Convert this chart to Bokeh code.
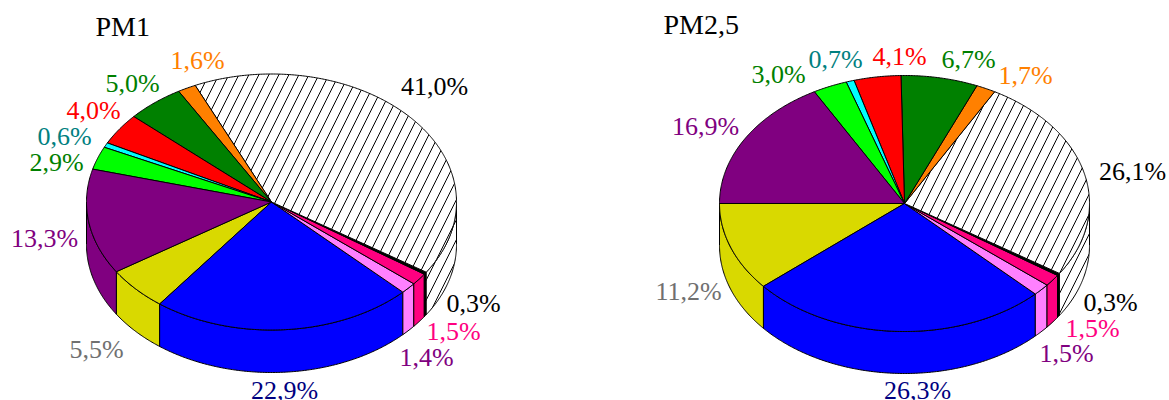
import numpy as np
from bokeh.core.properties import value
from bokeh.embed import file_html
from bokeh.models import Range1d
from bokeh.plotting import figure
from bokeh.resources import INLINE

# Slices in drawing order (counter-clockwise from each chart's start angle)
pm1_values = [5.5, 22.9, 1.4, 1.5, 0.3, 41.0, 1.6, 5.0, 4.0, 0.6, 2.9, 13.3]
pm25_values = [11.2, 26.3, 1.5, 1.5, 0.3, 26.1, 1.7, 6.7, 4.1, 0.7, 3.0, 16.9]
pm1_labels = ["5,5%", "22,9%", "1,4%", "1,5%", "0,3%", "41,0%", "1,6%", "5,0%", "4,0%", "0,6%", "2,9%", "13,3%"]
pm25_labels = ["11,2%", "26,3%", "1,5%", "1,5%", "0,3%", "26,1%", "1,7%", "6,7%", "4,1%", "0,7%", "3,0%", "16,9%"]
titles = ["PM1", "PM2,5"]

slice_colors = ["#d9d900", "#0000ff", "#ff80ff", "#ff0080", "#000000", "#ffffff",
                "#ff8000", "#008000", "#ff0000", "#00ffff", "#00ff00", "#800080"]
label_colors = ["#707070", "#000080", "#800080", "#ff0080", "#000000", "#000000",
                "#ff8000", "#008000", "#ff0000", "#008080", "#008000", "#800080"]
HATCHED = 5

# Layout (page pixels)
pm1_geom = dict(cx=271, cy=201.5, rx=185, ry=128, depth=42.5, start=213)
pm25_geom = dict(cx=904, cy=203, rx=185, ry=128, depth=42, start=180)
pm1_label_x = [96, 284, 426, 453, 473, 434, 197, 132, 93, 64, 56, 44]
pm1_label_y = [349, 390, 357, 331, 303, 86, 60, 83, 110, 136, 162, 238]
pm25_label_x = [688, 917, 1066, 1092, 1110, 1132, 1025, 968, 899, 835, 778, 705]
pm25_label_y = [291, 390, 353, 328, 302, 171, 75, 59, 56, 59, 74, 126]
title_x = [95, 663]
title_y = [26, 24]

FONT = "Liberation Serif"
LABEL_SIZE = "26px"
TITLE_SIZE = "28px"

p = figure(width=1169, height=400, output_backend="svg", toolbar_location=None,
           x_range=Range1d(0, 1169), y_range=Range1d(400, 0),
           min_border=0, outline_line_color=None)
p.xaxis.visible = False
p.yaxis.visible = False
p.grid.visible = False


def arc(g, a0, a1, dy=0.0):
    n = max(2, int(abs(a1 - a0)) * 2 + 2)
    t = np.radians(np.linspace(a0, a1, n))
    return g["cx"] + g["rx"] * np.cos(t), g["cy"] - g["ry"] * np.sin(t) + dy


def style(i):
    kw = dict(fill_color=slice_colors[i], line_color="black", line_width=1)
    if i == HATCHED:
        kw.update(hatch_pattern="right_diagonal_line", hatch_color="black",
                  hatch_scale=20, hatch_weight=1)
    return kw


def draw_pie(values, g):
    shares = np.array(values) / sum(values) * 360
    edges = g["start"] + np.concatenate([[0], np.cumsum(shares)])
    # side wall: only the front half of the disc is visible
    for i, (a0, a1) in enumerate(zip(edges[:-1], edges[1:])):
        for lo, hi in ((180, 360), (540, 720)):
            b0, b1 = max(a0, lo), min(a1, hi)
            if b1 <= b0:
                continue
            tx, ty = arc(g, b0, b1)
            bx, by = arc(g, b1, b0, g["depth"])
            p.patch(np.concatenate([tx, bx]), np.concatenate([ty, by]), **style(i))
    # top face
    for i, (a0, a1) in enumerate(zip(edges[:-1], edges[1:])):
        ax, ay = arc(g, a0, a1)
        p.patch(np.concatenate([[g["cx"]], ax]), np.concatenate([[g["cy"]], ay]), **style(i))


draw_pie(pm1_values, pm1_geom)
draw_pie(pm25_values, pm25_geom)

for xs, ys, labels in ((pm1_label_x, pm1_label_y, pm1_labels),
                       (pm25_label_x, pm25_label_y, pm25_labels)):
    p.text(x=xs, y=ys, text=labels, text_color=label_colors,
           text_font=value(FONT), text_font_size=value(LABEL_SIZE),
           text_align="center", text_baseline="alphabetic")

p.text(x=title_x, y=title_y, text=titles, text_color="black",
       text_font=value(FONT), text_font_size=value(TITLE_SIZE),
       text_align="left", text_baseline="alphabetic")

open("out.html", "w").write(file_html(p, INLINE))
